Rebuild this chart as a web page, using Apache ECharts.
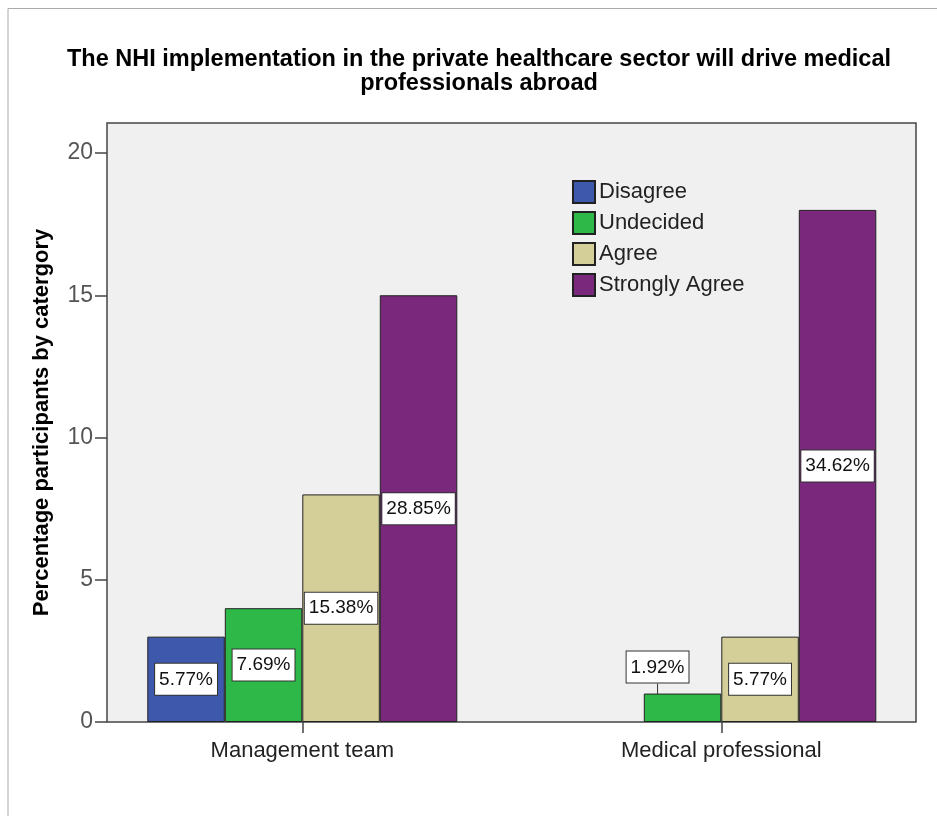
<!DOCTYPE html>
<html>
<head>
<meta charset="utf-8">
<script src="https://cdn.jsdelivr.net/npm/echarts@6/dist/echarts.min.js"></script>
<style>
  html, body { margin: 0; padding: 0; background: #fff; }
  #chart { width: 937px; height: 816px; }
</style>
</head>
<body>
<div id="chart"></div>
<script>
(function () {
	var groups = ['Management team', 'Medical professional'];
	var levels = ['Disagree', 'Undecided', 'Agree', 'Strongly Agree'];
	var disagree = [3, 0];
	var undecided = [4, 1];
	var agree = [8, 3];
	var stronglyAgree = [15, 18];
	var disagreePct = [5.77, null];
	var undecidedPct = [7.69, 1.92];
	var agreePct = [15.38, 5.77];
	var stronglyAgreePct = [28.85, 34.62];
	var colors = ['#3e58ac', '#2eb848', '#d4cf98', '#7a287b'];

	var values = [disagree, undecided, agree, stronglyAgree];
	var pcts = [disagreePct, undecidedPct, agreePct, stronglyAgreePct];
	var font = 'Arial, "Liberation Sans", sans-serif';

	var chart = echarts.init(document.getElementById('chart'));

	var labelBox = {
		show: true,
		position: 'inside',
		offset: [0, 3],
		color: '#111',
		fontFamily: font,
		fontSize: 19,
		lineHeight: 22,
		backgroundColor: '#fff',
		borderColor: '#333',
		borderWidth: 1,
		padding: [5, 4, 4, 4]
	};

	var series = levels.map(function (name, i) {
		return {
			name: name,
			type: 'bar',
			xAxisIndex: 2,
			yAxisIndex: 2,
			barWidth: 77.5,
			barGap: '0%',
			itemStyle: { color: colors[i], borderColor: '#222', borderWidth: 1 },
			label: Object.assign({}, labelBox, {
				formatter: function (p) { return pcts[i][p.dataIndex].toFixed(2) + '%'; }
			}),
			labelLayout: function (p) {
				// the small 1.92% bar gets its label pushed up-left with a leader line
				if (i === 1 && p.dataIndex === 1) return { dx: -25 };
				return {};
			},
			data: values[i].map(function (v, j) {
				if (!v) return '-';
				if (i === 1 && j === 1) {
					return {
						value: v,
						label: { position: 'top', distance: 11, offset: [0, 0] },
						labelLine: { show: true, lineStyle: { color: '#333', width: 1 } }
					};
				}
				return v;
			})
		};
	});

	var option = {
		backgroundColor: '#fff',
		animation: false,
		title: {
			text: 'The NHI implementation in the private healthcare sector will drive medical\nprofessionals abroad',
			left: 474,
			top: 43,
			textAlign: 'center',
			textStyle: { fontFamily: font, fontSize: 23.5, fontWeight: 'bold', color: '#000', lineHeight: 24 }
		},
		graphic: [{
			type: 'rect',
			shape: { x: 8, y: 8.5, width: 940, height: 820 },
			style: { fill: null, stroke: '#aaa', lineWidth: 1 },
			silent: true
		}],
		legend: {
			data: levels,
			orient: 'vertical',
			left: 572,
			top: 180,
			padding: 0,
			itemWidth: 22,
			itemHeight: 22,
			itemGap: 7,
			icon: 'rect',
			textStyle: { fontFamily: font, fontSize: 22, lineHeight: 22, color: '#222', padding: [0, 0, 0, -1] }
		},
		grid: [
			{ left: 107, width: 809, top: 123, bottom: 94, show: true, backgroundColor: '#f0f0f0', borderColor: '#444', borderWidth: 1.5 },
			{ left: 107, width: 809, top: 153, bottom: 94 },
			{ left: 92.8, width: 838, top: 153, bottom: 94 }
		],
		xAxis: [
			{ gridIndex: 0, type: 'category', data: groups, show: false },
			{ gridIndex: 1, type: 'category', data: groups, show: false },
			{
				gridIndex: 2,
				type: 'category',
				data: groups,
				axisLine: { show: false },
				axisTick: { show: true, alignWithLabel: true, length: 11, lineStyle: { color: '#444', width: 1.5 } },
				axisLabel: { margin: 18, fontFamily: font, fontSize: 22, color: '#222' }
			}
		],
		yAxis: [
			{
				gridIndex: 0,
				type: 'value',
				min: 0,
				max: 20,
				name: 'Percentage participants by catergory',
				nameLocation: 'middle',
				nameGap: 54,
				nameRotate: 90,
				nameTextStyle: { fontFamily: font, fontSize: 22, fontWeight: 'bold', color: '#000' },
				axisLine: { show: false },
				axisTick: { show: false },
				axisLabel: { show: false },
				splitLine: { show: false }
			},
			{
				gridIndex: 1,
				type: 'value',
				min: 0,
				max: 20,
				interval: 5,
				axisLine: { show: false },
				axisTick: { show: true, length: 12, lineStyle: { color: '#444', width: 1.5 } },
				axisLabel: { margin: 14, fontFamily: font, fontSize: 23, color: '#555' },
				splitLine: { show: false }
			},
			{ gridIndex: 2, type: 'value', min: 0, max: 20, show: false }
		],
		series: series
	};

	chart.setOption(option);
})();
</script>
</body>
</html>
